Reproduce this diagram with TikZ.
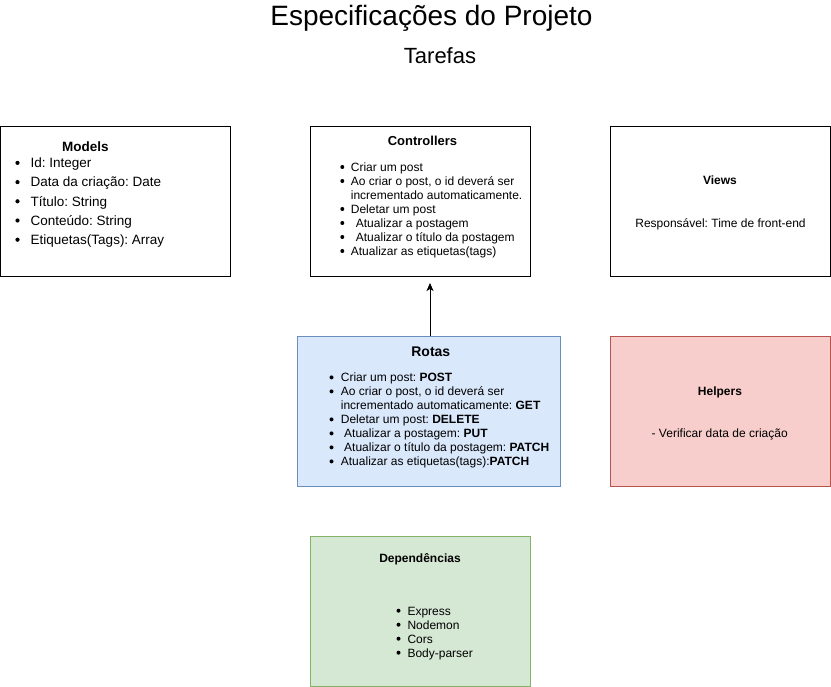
\documentclass[tikz,border=0pt]{standalone}
\usepackage{fontspec}
\setmainfont{Liberation Sans}
\usetikzlibrary{arrows.meta}
\frenchspacing

\definecolor{azulfundo}{HTML}{DAE8FC}
\definecolor{azulborda}{HTML}{6C8EBF}
\definecolor{rosafundo}{HTML}{F8CECC}
\definecolor{rosaborda}{HTML}{B85450}
\definecolor{verdefundo}{HTML}{D5E8D4}
\definecolor{verdeborda}{HTML}{82B366}

\tikzset{
    caixa/.style={draw, line width=1pt, anchor=north west, minimum width=220pt, minimum height=150pt, inner sep=0pt, outer sep=0pt},
    cabeca/.style={anchor=base, inner sep=0pt, font=\bfseries\fontsize{12}{14}\selectfont},
    linha/.style={anchor=base west, inner sep=0pt, font=\fontsize{12}{14}\selectfont},
    linhameio/.style={anchor=base, inner sep=0pt, font=\fontsize{12}{14}\selectfont},
}

\begin{document}
\begin{tikzpicture}[x=1pt, y=-1pt]
    \useasboundingbox (0,0) rectangle (831,687);

    % Titulo
    \node[anchor=base, inner sep=0pt, font=\fontsize{28}{34}\selectfont] (titulo) at (431.5,26) {Especificações do Projeto};
    \node[anchor=base, inner sep=0pt, font=\fontsize{22}{26}\selectfont] (tarefas) at (440,63.5) {Tarefas};

    % Caixas
    \node[caixa, minimum width=230pt] (models) at (0.5,126.5) {};
    \node[caixa] (controllers) at (310.5,126.5) {};
    \node[caixa] (views) at (610.5,126.5) {};
    \node[caixa, minimum width=263pt, fill=azulfundo, draw=azulborda] (rotas) at (297.5,336.5) {};
    \node[caixa, fill=rosafundo, draw=rosaborda] (helpers) at (610.5,336.5) {};
    \node[caixa, fill=verdefundo, draw=verdeborda] (dependencias) at (310.5,536.5) {};

    % Models
    \node[cabeca, font=\bfseries\fontsize{13.5}{16}\selectfont] (tmodels) at (85.5,151.7) {Models};
    \node[linha, font=\fontsize{13.5}{16}\selectfont] (m1) at (30.5,167.7) {Id: Integer};
    \node[linha, font=\fontsize{13.5}{16}\selectfont] (m2) at (30.5,186.9) {Data da criação: Date};
    \node[linha, font=\fontsize{13.5}{16}\selectfont] (m3) at (30.5,206.1) {Título: String};
    \node[linha, font=\fontsize{13.5}{16}\selectfont] (m4) at (30.5,225.3) {Conteúdo: String};
    \node[linha, font=\fontsize{13.5}{16}\selectfont] (m5) at (30.5,244.5) {Etiquetas(Tags): Array};
    \foreach \y in {167.7, 186.9, 206.1, 225.3, 244.5}
        \fill (17.5,\y-4.8) circle (2.1pt);

    % Controllers
    \node[cabeca, font=\bfseries\fontsize{13}{16}\selectfont] (tcontrollers) at (422.5,146) {Controllers};
    \node[linha] (c1) at (350.7,171.3) {Criar um post};
    \node[linha] (c2) at (350.7,185.3) {Ao criar o post, o id deverá ser};
    \node[linha] (c3) at (350.7,199.3) {incrementado automaticamente.};
    \node[linha] (c4) at (350.7,213.3) {Deletar um post};
    \node[linha] (c5) at (355.7,227.3) {Atualizar a postagem};
    \node[linha] (c6) at (355.7,241.3) {Atualizar o título da postagem};
    \node[linha] (c7) at (350.7,255.3) {Atualizar as etiquetas(tags)};
    \foreach \y in {171.3, 185.3, 213.3, 227.3, 241.3, 255.3}
        \fill (342.3,\y-4.3) circle (2pt);

    % Views
    \node[cabeca] (tviews) at (720,185) {Views};
    \node[linhameio] (v1) at (720.5,227.3) {Responsável: Time de front-end};

    % Rotas
    \node[cabeca, font=\bfseries\fontsize{14}{17}\selectfont] (trotas) at (430.8,356.7) {Rotas};
    \node[linha] (r1) at (340.7,381.7) {Criar um post: \textbf{POST}};
    \node[linha] (r2) at (340.7,395.7) {Ao criar o post, o id deverá ser};
    \node[linha] (r3) at (340.7,409.7) {incrementado automaticamente: \textbf{GET}};
    \node[linha] (r4) at (340.7,423.7) {Deletar um post: \textbf{DELETE}};
    \node[linha] (r5) at (344,437.7) {Atualizar a postagem: \textbf{PUT}};
    \node[linha] (r6) at (344,451.7) {Atualizar o título da postagem: \textbf{PATCH}};
    \node[linha] (r7) at (340.7,465.7) {Atualizar as etiquetas(tags):\textbf{PATCH}};
    \foreach \y in {381.7, 395.7, 423.7, 437.7, 451.7, 465.7}
        \fill (331.5,\y-4.3) circle (2pt);

    % Helpers
    \node[cabeca] (thelpers) at (720,395.7) {Helpers};
    \node[linhameio] (h1) at (719.7,437.3) {- Verificar data de criação};

    % Dependencias
    \node[cabeca] (tdependencias) at (420,562.3) {Dependências};
    \node[linha] (d1) at (407.3,615) {Express};
    \node[linha] (d2) at (407.3,629) {Nodemon};
    \node[linha] (d3) at (407.3,643) {Cors};
    \node[linha] (d4) at (407.3,657) {Body-parser};
    \foreach \y in {615, 629, 643, 657}
        \fill (398.5,\y-4.3) circle (2pt);

    % Seta de Rotas para Controllers
    \coordinate (ponta) at (430,283);
    \draw[line width=1pt, -{Stealth[length=8pt, width=7pt, inset=2pt]}] (ponta |- rotas.north) -- (ponta);
\end{tikzpicture}
\end{document}
